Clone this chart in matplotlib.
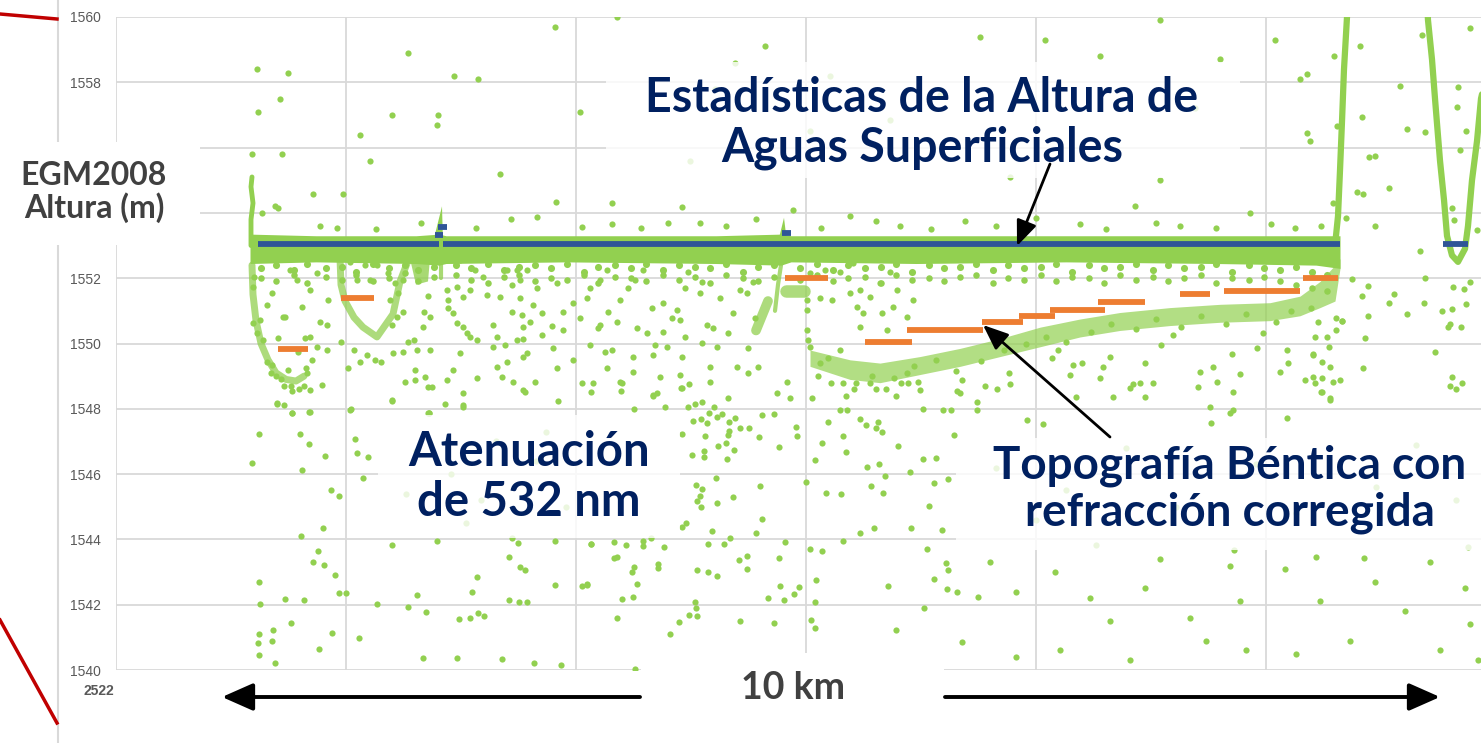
import matplotlib
matplotlib.use("Agg")
import matplotlib.pyplot as plt
import numpy as np
from matplotlib.patches import Rectangle, FancyArrowPatch
from matplotlib.lines import Line2D

W, H = 1481, 743
GRN = "#92d050"
BLU = "#2f5597"
ORG = "#ed7d31"
NAVY = "#002060"
GRAY = "#404040"
GRID = "#d9d9d9"

# ---- datos (distancia a lo largo de la traza, altura EGM2008 m) ----
yticks = [1540, 1542, 1544, 1546, 1548, 1550, 1552, 1554, 1556, 1558, 1560]
# 1554 y 1556 quedan tapados por el recuadro del titulo del eje
ytick_labels = ["1540", "1542", "1544", "1546", "1548", "1550", "1552", "", "", "1558", "1560"]
xgrid = [0, 23, 46, 69, 92, 115]
xlabel_first = "2522"

# superficie del agua (banda densa de fotones)
surf_x = [13.4, 20.0, 30.0, 32.3, 33.0, 45.0, 60.0, 66.5, 67.5, 80.0, 95.0, 110.0, 120.0, 122.4]
surf_top = [1553.35, 1553.3, 1553.3, 1553.35, 1553.3, 1553.3, 1553.3, 1553.35, 1553.3, 1553.3, 1553.3, 1553.3, 1553.3, 1553.3]
surf_bot = [1552.45, 1552.5, 1552.45, 1552.4, 1552.45, 1552.5, 1552.45, 1552.4, 1552.5, 1552.45, 1552.5, 1552.45, 1552.4, 1552.3]

# estadistica de altura de superficie (azul)
blue_x0 = [14.2, 32.7, 132.7, 32.2, 31.9, 66.6]
blue_x1 = [32.3, 122.4, 135.2, 33.1, 32.7, 67.5]
blue_y = [1553.05, 1553.05, 1553.05, 1553.57, 1553.32, 1553.38]

# topografia bentica corregida (naranja)
orange_x0 = [16.2, 22.5, 66.9, 74.9, 79.1, 86.6, 90.3, 93.4, 98.2, 106.4, 110.8, 118.7]
orange_x1 = [19.2, 25.8, 71.2, 79.6, 86.7, 90.7, 93.9, 98.9, 102.9, 109.4, 118.4, 122.2]
orange_y = [1549.83, 1551.39, 1552.0, 1550.05, 1550.42, 1550.66, 1550.84, 1551.03, 1551.27, 1551.52, 1551.6, 1552.0]

# fondo largo (nube densa de retornos del fondo)
bottom_x = [69.4, 73.4, 76.4, 80.4, 84.4, 88.4, 92.4, 96.4, 100.4, 105.4, 110.4, 115.4, 118.4, 120.4, 121.9, 122.4]
bottom_top = [1549.8, 1549.5, 1549.4, 1549.6, 1549.85, 1550.15, 1550.5, 1550.75, 1550.95, 1551.1, 1551.2, 1551.25, 1551.45, 1551.9, 1552.4, 1552.6]
bottom_bot = [1549.3, 1548.9, 1548.8, 1549.05, 1549.3, 1549.6, 1549.9, 1550.2, 1550.4, 1550.55, 1550.65, 1550.7, 1550.85, 1551.1, 1551.3, 1552.3]

# trazas delgadas (paredes, colas, U del fondo)
wall_x = [13.5, 13.5, 13.7, 13.5, 13.6]
wall_y = [1553.0, 1553.8, 1554.3, 1554.8, 1555.1]
u1_x = [13.6, 13.7, 14.0, 14.5, 15.2, 16.0, 17.0, 18.0, 18.8]
u1_y = [1552.4, 1551.5, 1550.7, 1550.0, 1549.5, 1549.1, 1548.9, 1548.85, 1549.0]
u2_x = [22.4, 22.5, 22.9, 23.8, 24.7, 26.1, 27.7, 28.4, 29.1]
u2_y = [1552.6, 1551.8, 1551.3, 1550.8, 1550.5, 1550.2, 1550.9, 1551.9, 1552.45]
tail1_x = [32.5, 32.5]
tail1_y = [1553.0, 1552.0]
tail2_x = [66.6, 66.2, 65.9]
tail2_y = [1552.6, 1551.8, 1551.0]
blob_x = [65.2, 64.0]
blob_y = [1551.3, 1550.4]
blob2_x = [67.0, 68.8]
blob2_y = [1551.6, 1551.6]
hump_x = [29.4, 31.4, 31.2, 30.0]
hump_y = [1552.6, 1552.6, 1551.9, 1551.8]
spike1_x = [31.7, 32.6, 32.7]
spike1_y = [1553.1, 1554.2, 1553.1]
spike2_x = [66.2, 66.8, 67.1]
spike2_y = [1553.1, 1553.85, 1553.1]
v1_x = [121.9, 122.2, 122.4, 122.6, 122.8, 123.1, 123.2]
v1_y = [1553.0, 1553.9, 1555.3, 1556.8, 1558.4, 1560.0, 1560.5]
v2_x = [131.1, 131.2, 131.6, 131.9, 132.4, 132.8, 133.1, 133.6, 134.2, 134.9, 135.2, 135.6, 136.1, 136.5, 137.4]
v2_y = [1560.5, 1559.9, 1558.7, 1557.5, 1555.6, 1554.4, 1553.3, 1552.7, 1552.5, 1552.9, 1553.6, 1555.0, 1556.2, 1557.5, 1558.7]

# fotones dispersos
noise_above = [
    (14.1, 1558.4), (14.2, 1557.1), (13.6, 1555.8), (17.2, 1558.3), (16.4, 1557.5), (16.6, 1555.8),
    (20.4, 1553.6), (14.6, 1554.0), (15.9, 1554.2), (16.2, 1554.15), (19.7, 1554.58), (22.7, 1554.58),
    (22.1, 1553.54), (29.2, 1558.9), (33.8, 1558.2), (36.2, 1558.1), (27.6, 1557.0), (24.4, 1556.4),
    (32.2, 1557.0), (32.1, 1556.7), (25.4, 1555.6), (43.9, 1559.7), (46.4, 1557.1), (50.1, 1560.0),
    (59.9, 1557.8), (61.9, 1558.6), (64.9, 1559.1), (71.4, 1558.2), (77.4, 1556.85), (86.4, 1559.4),
    (92.9, 1559.3), (98.4, 1558.8), (104.4, 1559.9), (110.4, 1558.7), (115.9, 1559.3), (118.4, 1558.1),
    (119.4, 1556.2), (104.4, 1555.0), (42.1, 1553.87), (46.6, 1553.57), (49.6, 1553.66), (55.2, 1553.69),
    (56.6, 1554.18), (44.0, 1554.33), (49.6, 1554.3), (67.7, 1554.09), (58.4, 1553.7), (73.4, 1553.9),
    (78.4, 1553.6), (84.9, 1553.75), (96.4, 1553.65), (101.9, 1554.2), (106.4, 1553.6), (113.4, 1554.0),
    (117.9, 1553.55), (89.4, 1555.1), (57.4, 1555.6), (38.4, 1555.2), (69.4, 1556.5), (82.4, 1557.6),
    (107.9, 1557.2), (119.1, 1558.25), (119.1, 1556.45), (121.8, 1558.81), (124.6, 1556.94),
    (122.1, 1556.66), (125.3, 1555.71), (125.9, 1555.74), (124.1, 1554.64), (124.7, 1554.58),
    (127.3, 1554.76), (125.9, 1553.6), (129.1, 1556.57), (130.6, 1559.45), (134.2, 1557.86),
    (134.1, 1557.24), (135.0, 1556.51), (134.4, 1555.93), (135.4, 1559.66), (130.9, 1556.48),
    (130.4, 1552.83), (123.0, 1553.84), (121.7, 1554.3), (136.1, 1553.48), (133.6, 1554.15),
    (133.8, 1553.78), (124.4, 1559.1), (128.4, 1557.9),
    (26.0, 1553.5), (30.5, 1553.7), (36.0, 1553.55), (39.5, 1553.8), (52.5, 1553.55), (61.0, 1553.6),
    (64.0, 1553.8), (70.5, 1553.55), (76.0, 1553.75), (81.5, 1553.5), (88.0, 1553.6), (92.0, 1553.85),
    (99.0, 1553.5), (104.0, 1553.7), (110.0, 1553.55), (115.5, 1553.65), (120.5, 1553.6),
]
noise_left = [
    (13.7, 1551.73), (13.8, 1552.04), (15.1, 1551.18), (14.4, 1550.72), (15.6, 1551.55), (16.9, 1550.81),
    (18.6, 1551.12), (19.4, 1551.64), (20.1, 1552.16), (18.1, 1551.94), (17.4, 1552.25), (19.4, 1550.2),
    (20.1, 1549.9), (18.2, 1549.74), (19.6, 1549.5), (19.1, 1549.1), (20.6, 1548.73), (19.4, 1548.58),
    (16.1, 1548.18), (17.6, 1547.87), (19.4, 1547.9), (15.1, 1549.43), (15.6, 1549.34), (14.1, 1550.32),
    (13.7, 1550.63), (14.7, 1550.11), (16.2, 1550.17), (16.7, 1550.81), (18.9, 1550.17), (21.1, 1549.8),
    (21.1, 1550.57), (20.4, 1550.66), (21.2, 1551.33), (22.5, 1550.05),
    (16.0, 1549.0), (16.5, 1548.9), (17.5, 1548.7), (18.3, 1548.6), (17.6, 1548.55), (16.8, 1548.7),
    (18.8, 1548.7), (15.5, 1549.1), (19.0, 1549.25), (17.2, 1549.2),
    (14.3, 1547.23), (13.6, 1546.34), (18.4, 1547.23), (19.3, 1546.92), (20.9, 1546.55), (18.6, 1546.13),
    (21.5, 1545.51), (22.3, 1545.33), (20.7, 1544.35), (18.5, 1544.1), (20.2, 1543.64), (19.7, 1543.31),
    (20.8, 1543.22), (21.9, 1542.91), (14.3, 1542.7), (14.4, 1542.02), (16.9, 1542.17), (18.8, 1542.14),
    (22.3, 1542.36), (23.0, 1542.36), (17.5, 1541.44), (15.7, 1541.23), (14.3, 1541.1), (14.2, 1540.83),
    (15.6, 1540.89), (14.3, 1540.46), (15.9, 1540.21), (21.6, 1541.13), (20.3, 1540.64), (24.3, 1540.98),
    (23.9, 1547.08), (24.1, 1546.65), (25.2, 1546.52), (24.7, 1545.88), (27.6, 1543.83), (26.1, 1542.02),
    (29.2, 1541.93), (31.0, 1541.78), (30.1, 1542.3), (30.7, 1540.37), (34.1, 1540.37), (38.6, 1540.34),
    (41.8, 1540.21), (44.5, 1540.15), (34.3, 1541.56), (35.4, 1541.6), (36.2, 1541.75), (36.8, 1541.65),
    (35.6, 1542.39), (36.1, 1542.85), (39.3, 1542.14), (40.3, 1542.08), (41.1, 1542.08), (43.9, 1542.6),
    (46.6, 1542.57), (47.1, 1542.6), (39.3, 1543.46), (40.4, 1543.15), (40.9, 1543.06), (39.6, 1544.04),
    (40.2, 1543.89), (43.9, 1543.95), (47.5, 1543.86), (32.1, 1543.95), (44.2, 1548.24), (32.9, 1548.15),
    (34.7, 1548.12), (31.3, 1547.87), (16.1, 1548.15), (16.8, 1548.12), (17.6, 1547.87), (19.3, 1547.9),
    (23.5, 1547.99), (27.6, 1548.24), (30.0, 1546.7), (33.5, 1546.0), (36.5, 1545.2), (38.0, 1547.0),
    (42.0, 1546.4), (45.0, 1545.0), (29.0, 1545.4), (35.0, 1544.5), (43.0, 1547.3),
    (23.4, 1552.5), (24.9, 1552.4), (26.1, 1552.4), (24.1, 1551.94), (25.4, 1551.94), (27.2, 1552.16),
    (34.4, 1552.56), (35.9, 1552.25), (36.7, 1552.04), (39.1, 1552.25), (40.1, 1552.25), (39.6, 1551.79),
    (33.1, 1551.64), (34.1, 1551.73), (33.2, 1551.33), (34.7, 1551.42), (35.4, 1551.64), (37.1, 1551.49),
    (38.4, 1551.42), (40.4, 1551.39), (33.2, 1551.09), (33.7, 1550.93), (34.1, 1550.63), (34.7, 1550.5),
    (35.1, 1550.32), (35.4, 1550.2), (36.1, 1550.11), (37.7, 1550.57), (39.6, 1550.96), (40.7, 1550.5),
    (38.1, 1550.2), (37.7, 1549.89), (38.9, 1549.95), (40.1, 1550.11), (40.7, 1549.59), (39.1, 1549.43),
    (38.1, 1549.28), (34.4, 1549.71), (33.7, 1549.19), (33.1, 1548.88), (34.7, 1548.48), (34.7, 1548.05),
    (36.1, 1548.94), (38.6, 1548.97), (39.7, 1548.82), (40.7, 1548.58), (31.2, 1547.87), (31.2, 1548.67),
    (28.7, 1551.94), (27.9, 1551.85), (28.2, 1551.55), (27.4, 1551.33), (28.7, 1550.96), (28.1, 1550.81),
    (27.6, 1550.57), (31.2, 1551.45), (31.4, 1550.81), (30.8, 1550.96), (30.7, 1550.5), (29.8, 1550.11),
    (30.1, 1549.8), (28.7, 1549.74), (27.7, 1549.71), (29.2, 1550.05), (29.9, 1549.19), (28.9, 1548.82),
    (31.4, 1549.8), (30.9, 1548.97), (31.6, 1548.67), (29.9, 1548.88), (27.6, 1548.27), (31.3, 1547.87),
    (26.5, 1549.43), (25.9, 1549.49), (25.1, 1549.65), (24.4, 1549.43), (23.8, 1549.8), (23.2, 1549.25),
    (23.4, 1547.96),
]
noise_mid = [
    (40.4, 1551.94), (41.1, 1552.25), (42.1, 1551.7), (41.7, 1551.18), (42.6, 1550.93), (40.6, 1550.87),
    (41.4, 1550.66), (42.6, 1550.26), (40.7, 1550.14), (43.6, 1550.54), (44.1, 1551.85), (44.7, 1550.96),
    (45.7, 1551.24), (46.4, 1550.78), (47.1, 1551.39), (47.4, 1551.7), (48.4, 1551.94), (49.1, 1552.25),
    (48.4, 1550.57), (49.2, 1550.96), (50.1, 1550.66), (50.4, 1551.33), (51.2, 1551.7), (51.9, 1551.94),
    (52.7, 1552.25), (53.6, 1551.09), (54.7, 1551.24), (55.6, 1550.78), (56.1, 1551.03), (56.9, 1551.7),
    (58.4, 1551.55), (58.6, 1551.88), (57.2, 1552.19), (59.1, 1550.57), (60.4, 1551.39), (61.7, 1550.93),
    (62.4, 1551.64), (63.1, 1551.55), (63.7, 1551.88), (63.9, 1550.78), (61.2, 1550.32), (59.7, 1550.48),
    (56.4, 1550.72), (54.7, 1550.35), (53.9, 1549.95), (55.1, 1549.89), (56.9, 1550.2), (53.1, 1550.32),
    (52.1, 1550.48), (48.2, 1550.48), (44.7, 1550.41), (41.1, 1549.71), (45.7, 1549.49), (43.7, 1549.86),
    (47.4, 1549.95), (48.9, 1549.74), (49.6, 1549.8), (51.7, 1549.59), (53.7, 1549.65), (56.6, 1549.59),
    (58.6, 1550.02), (60.1, 1549.89), (63.2, 1549.86), (64.2, 1549.28), (62.1, 1549.28), (59.4, 1549.28),
    (56.4, 1549.04), (54.4, 1548.97), (51.7, 1549.13), (49.1, 1549.25), (44.1, 1549.25), (41.9, 1548.82),
    (40.9, 1548.51), (46.6, 1548.79), (50.4, 1548.82), (53.7, 1548.42), (56.6, 1548.64), (59.4, 1548.82),
    (63.2, 1549.1), (67.1, 1548.82), (66.1, 1548.48),
    (47.5, 1548.51), (47.7, 1548.79), (50.6, 1548.79), (50.5, 1548.55), (51.8, 1548.0), (53.7, 1548.39),
    (54.1, 1548.48), (54.9, 1548.05), (56.5, 1548.64), (57.3, 1548.76), (57.2, 1548.05), (57.9, 1548.15),
    (58.6, 1548.21), (59.8, 1548.05), (61.2, 1548.33), (59.3, 1547.87), (60.1, 1547.75), (60.6, 1547.84),
    (57.7, 1547.63), (58.5, 1547.69), (59.1, 1547.57), (61.3, 1547.6), (61.9, 1547.72), (62.4, 1547.41),
    (63.3, 1547.41), (64.6, 1547.81), (65.8, 1547.84), (61.3, 1547.32), (61.2, 1547.2), (58.9, 1547.17),
    (56.6, 1547.23), (57.6, 1546.58), (58.8, 1546.71), (58.8, 1546.52), (60.2, 1546.86), (61.0, 1546.95),
    (61.8, 1546.74), (61.1, 1546.46), (64.3, 1547.14), (66.3, 1546.83), (68.0, 1547.44), (68.1, 1547.17),
    (67.4, 1548.33), (69.6, 1548.33), (71.2, 1547.6), (72.7, 1547.17), (73.0, 1546.68), (69.9, 1546.43),
    (70.6, 1546.95), (72.4, 1547.96), (73.1, 1547.96), (74.4, 1547.7), (75.0, 1547.5), (76.0, 1547.4),
    (76.6, 1547.3), (76.2, 1547.6), (72.7, 1548.8), (73.0, 1548.4), (74.0, 1548.8), (75.4, 1548.8),
    (76.0, 1548.6), (77.0, 1548.6), (78.0, 1548.4), (78.5, 1548.8), (75.1, 1546.22), (76.3, 1546.31),
    (76.9, 1545.94), (75.5, 1545.64), (76.7, 1545.42), (78.2, 1546.86), (79.4, 1546.06), (80.7, 1546.46),
    (82.0, 1546.49), (81.8, 1545.73), (83.2, 1545.85), (81.3, 1545.02), (82.6, 1544.29), (79.5, 1544.35),
    (75.8, 1544.35), (74.4, 1544.2), (72.7, 1543.95), (71.0, 1545.42), (72.5, 1545.39), (69.0, 1545.76),
    (69.4, 1543.71), (70.6, 1543.65), (70.0, 1542.76), (69.9, 1542.08), (69.5, 1541.53), (69.9, 1541.29),
    (77.2, 1542.57), (78.0, 1541.23), (81.1, 1543.71), (81.8, 1542.79), (83.0, 1543.28), (83.2, 1543.06),
    (83.1, 1542.48), (84.1, 1542.39), (80.8, 1541.9), (84.6, 1540.86), (86.2, 1542.24), (66.9, 1543.92),
    (66.3, 1543.43), (66.4, 1542.57), (68.3, 1542.54), (67.8, 1542.33), (66.8, 1542.14), (65.2, 1542.2),
    (65.8, 1541.44), (62.4, 1541.5), (64.6, 1544.62), (64.0, 1544.2), (61.4, 1544.04), (60.8, 1543.86),
    (59.2, 1543.86), (59.6, 1544.26), (62.3, 1543.37), (63.1, 1543.49), (63.1, 1543.09), (60.1, 1542.88),
    (59.2, 1543.0), (58.1, 1543.06), (61.7, 1545.3), (60.1, 1545.12), (60.0, 1545.88), (58.0, 1545.67),
    (58.6, 1545.54), (58.4, 1545.33), (58.1, 1545.18), (58.5, 1544.99), (57.0, 1544.5), (56.6, 1544.38),
    (54.8, 1543.77), (53.5, 1544.04), (52.7, 1543.95), (52.7, 1543.8), (51.0, 1543.83), (49.8, 1543.92),
    (47.5, 1543.86), (49.8, 1543.43), (50.1, 1543.46), (51.8, 1543.15), (51.6, 1543.0), (54.2, 1543.25),
    (54.2, 1543.12), (52.1, 1542.63), (51.7, 1542.24), (50.6, 1542.17), (47.1, 1542.63), (50.1, 1541.59),
    (56.3, 1541.47), (57.3, 1541.69), (57.9, 1542.08), (58.0, 1541.9), (58.1, 1541.65), (55.4, 1541.1),
    (51.9, 1540.03), (64.4, 1545.64),
    (69.4, 1552.16), (70.9, 1552.25), (72.4, 1552.19), (73.7, 1552.47), (74.4, 1551.64), (75.4, 1551.42),
    (76.4, 1551.85), (77.4, 1552.19), (78.1, 1551.64), (74.1, 1551.12), (74.7, 1550.93), (76.6, 1550.93),
    (77.7, 1551.12), (79.1, 1550.81), (79.7, 1551.33), (74.4, 1550.5), (77.1, 1550.41), (69.1, 1551.33),
    (69.1, 1551.03), (70.4, 1551.39), (71.6, 1551.33), (73.4, 1551.55), (69.1, 1550.41), (69.2, 1550.11),
    (69.4, 1549.89), (70.4, 1549.4), (71.2, 1549.56), (72.4, 1549.8),
    (70.2, 1549.0), (71.5, 1548.8), (73.8, 1548.6), (75.6, 1549.0), (77.8, 1548.95), (79.8, 1549.3),
    (82.0, 1549.5), (84.0, 1549.15), (86.5, 1549.45), (88.8, 1549.8), (91.0, 1550.0), (93.0, 1550.2),
    (95.0, 1550.05), (97.5, 1550.35), (99.5, 1550.6), (102.0, 1550.45), (104.0, 1550.75), (106.5, 1550.5),
    (108.5, 1550.85), (111.0, 1550.6), (113.0, 1550.9), (116.0, 1550.65), (117.5, 1551.0), (119.5, 1551.1),
]
noise_right = [
    (79.1, 1549.1), (80.2, 1548.82), (80.4, 1548.58), (79.2, 1548.79), (84.6, 1548.88), (84.4, 1548.48),
    (86.1, 1548.21), (86.9, 1548.7), (88.1, 1548.61), (89.3, 1549.1), (89.4, 1548.76), (82.7, 1547.96),
    (83.5, 1547.96), (80.7, 1547.99), (93.6, 1549.56), (94.2, 1549.8), (95.7, 1549.34), (96.6, 1549.4),
    (98.7, 1549.28), (99.4, 1549.59), (101.4, 1548.64), (101.7, 1548.76), (102.4, 1548.79), (102.9, 1549.4),
    (103.7, 1548.79), (102.9, 1548.36), (99.7, 1548.36), (98.4, 1548.94), (95.4, 1549.03), (96.0, 1548.36),
    (104.5, 1549.95), (105.7, 1550.26), (108.4, 1549.13), (108.2, 1548.67), (109.7, 1549.28), (110.1, 1548.82),
    (111.6, 1549.68), (111.7, 1548.52), (112.4, 1549.07), (114.1, 1549.86), (114.7, 1550.32), (116.4, 1549.13),
    (117.1, 1549.8), (117.2, 1549.4), (118.9, 1548.88), (119.9, 1548.79), (120.6, 1548.52), (119.7, 1549.65),
    (121.4, 1549.28), (122.6, 1550.69), (122.4, 1548.88), (121.4, 1548.27), (109.4, 1548.05), (111.7, 1547.96),
    (117.1, 1547.72), (111.4, 1547.87), (91.1, 1547.66), (84.1, 1548.55), (86.1, 1547.96),
    (123.6, 1551.98), (125.2, 1551.76), (124.6, 1551.45), (127.8, 1551.52), (127.3, 1551.24), (125.2, 1550.84),
    (124.9, 1550.17), (124.7, 1549.25), (122.6, 1550.69), (122.0, 1550.41), (130.9, 1552.01), (130.8, 1551.24),
    (129.1, 1550.9), (131.9, 1549.74), (132.6, 1551.0), (133.7, 1551.73), (134.8, 1551.67), (135.4, 1551.88),
    (135.0, 1551.21), (133.6, 1551.06), (133.4, 1550.6), (133.2, 1550.5), (134.5, 1550.5), (133.6, 1548.97),
    (133.4, 1548.7), (134.0, 1548.61), (134.6, 1548.79), (119.7, 1548.97), (120.6, 1548.94), (121.7, 1548.82),
    (120.5, 1548.52), (121.4, 1548.33), (119.7, 1549.68), (120.6, 1549.43), (121.3, 1549.89), (121.1, 1550.2),
    (122.0, 1550.78), (120.2, 1550.66), (119.9, 1550.2),
    (83.8, 1547.2), (92.7, 1547.53), (109.5, 1547.57), (135.2, 1543.77), (111.8, 1543.68), (120.0, 1543.46),
    (124.8, 1543.43), (98.0, 1543.83), (88.0, 1546.2), (95.0, 1545.5), (101.0, 1546.8), (106.0, 1545.0),
    (114.0, 1546.3), (118.0, 1544.8), (126.0, 1545.6), (130.0, 1546.9), (134.0, 1545.2), (92.0, 1544.6),
    (87.4, 1543.3), (90.0, 1542.4), (93.9, 1543.0), (97.4, 1542.2), (99.4, 1541.5), (102.9, 1542.5),
    (104.4, 1543.4), (107.4, 1541.6), (111.4, 1543.2), (112.4, 1542.1), (113.0, 1540.6), (116.9, 1543.1),
    (120.4, 1542.1), (123.4, 1540.9), (125.9, 1542.7), (128.9, 1541.8), (131.4, 1543.3), (132.4, 1540.6),
    (135.4, 1541.4), (136.2, 1540.3), (134.9, 1542.5), (90.0, 1540.4), (94.4, 1540.6), (101.4, 1540.3),
    (118.0, 1540.5), (109.0, 1540.9),
]

# fila densa justo debajo de la superficie
fringe_x = [14.5, 16.0, 17.8, 19.1, 21.0, 22.6, 24.0, 25.7, 27.3, 28.9, 30.2, 31.8, 34.0, 35.5, 37.2,
            38.8, 40.3, 41.9, 43.5, 45.1, 46.8, 48.2, 49.9, 51.5, 53.0, 54.7, 56.3, 57.9, 59.4, 61.0,
            62.7, 64.2, 65.8, 68.4, 70.1, 71.7, 73.2, 74.9, 76.5, 78.0, 79.6, 81.3, 82.8, 84.4, 86.0,
            87.7, 89.2, 90.8, 92.5, 94.0, 95.6, 97.3, 98.8, 100.4, 102.0, 103.7, 105.2, 106.8, 108.5,
            110.0, 111.6, 113.3, 114.8, 116.4, 118.0, 119.6, 121.1]
fringe_y1 = [1552.3, 1552.4, 1552.25, 1552.45, 1552.3, 1552.35, 1552.2, 1552.45, 1552.3, 1552.4, 1552.25, 1552.35,
             1552.4, 1552.3, 1552.45, 1552.25, 1552.35, 1552.4, 1552.3, 1552.45, 1552.2, 1552.35, 1552.4, 1552.3,
             1552.45, 1552.25, 1552.4, 1552.35, 1552.3, 1552.45, 1552.2, 1552.35, 1552.4, 1552.3, 1552.45, 1552.25,
             1552.4, 1552.3, 1552.35, 1552.45, 1552.2, 1552.4, 1552.3, 1552.35, 1552.45, 1552.25, 1552.4, 1552.3,
             1552.35, 1552.45, 1552.2, 1552.4, 1552.3, 1552.35, 1552.45, 1552.25, 1552.4, 1552.3, 1552.35, 1552.45,
             1552.2, 1552.4, 1552.3, 1552.25, 1552.35, 1552.2, 1552.1]
fringe_y2 = [1552.0, 1551.9, 1552.1, 1551.85, 1552.05, 1551.95, 1552.1, 1551.9, 1552.0, 1552.15, 1551.9, 1552.05,
             1552.1, 1551.95, 1551.85, 1552.05, 1552.1, 1551.9, 1552.0, 1551.95, 1552.1, 1551.85, 1552.05, 1552.0,
             1551.9, 1552.1, 1551.95, 1552.05, 1551.85, 1552.1, 1552.0, 1551.9, 1552.05, 1551.95, 1552.1, 1551.9,
             1552.0, 1552.05, 1551.85, 1552.1, 1551.95, 1552.0, 1551.9, 1552.05, 1552.1, 1551.85, 1552.0, 1551.95,
             1552.1, 1551.9, 1552.05, 1552.0, 1551.85, 1552.1, 1551.95, 1552.05, 1551.9, 1552.0, 1552.1, 1551.85,
             1552.0, 1551.95, 1552.05, 1551.9, 1551.8, 1551.7, 1551.6]

# ---- figura ----
fig = plt.figure(figsize=(W / 100, H / 100), dpi=100)
fig.patch.set_facecolor("white")


def fx(px):
    return px / W


def fy(py):
    return 1 - py / H


ax = fig.add_axes([fx(116), fy(670), fx(1365), 653 / H])
ax.set_xlim(0, 136.5)
ax.set_ylim(1540, 1560)
for s in ax.spines.values():
    s.set_visible(False)
ax.set_xticks(xgrid)
ax.set_yticks(yticks)
ax.set_yticklabels(ytick_labels, family=["Liberation Sans", "DejaVu Sans"], fontsize=10, color="#595959")
ax.grid(True, color=GRID, lw=1.3)
ax.set_axisbelow(True)
ax.tick_params(length=0, labelbottom=False, pad=11)

# banda de superficie y fondo
ax.fill_between(surf_x, surf_bot, surf_top, color=GRN, lw=0, zorder=2)
ax.fill_between(bottom_x, bottom_bot, bottom_top, color=GRN, alpha=0.7, lw=0, zorder=2)
ax.fill(hump_x, hump_y, color=GRN, alpha=0.8, lw=0, zorder=2)
ax.fill(spike1_x, spike1_y, color=GRN, lw=0, zorder=2)
ax.fill(spike2_x, spike2_y, color=GRN, lw=0, zorder=2)
for xs, ys, w, a in [(wall_x, wall_y, 3.5, 1), (u1_x, u1_y, 5, 0.75), (u2_x, u2_y, 5, 0.75),
                     (tail1_x, tail1_y, 3, 0.8), (tail2_x, tail2_y, 3, 0.8), (blob_x, blob_y, 7, 0.75),
                     (blob2_x, blob2_y, 9, 0.75), (v1_x, v1_y, 4.5, 1), (v2_x, v2_y, 4.5, 1)]:
    ax.plot(xs, ys, color=GRN, lw=w, alpha=a, solid_capstyle="round", solid_joinstyle="round", zorder=2)

pts = np.array(noise_above + noise_left + noise_mid + noise_right)
ax.scatter(pts[:, 0], pts[:, 1], s=20, color=GRN, lw=0, zorder=2)
ax.scatter(fringe_x, fringe_y1, s=26, color=GRN, lw=0, zorder=2)
ax.scatter(fringe_x, fringe_y2, s=22, color=GRN, lw=0, zorder=2)

ax.hlines(blue_y, blue_x0, blue_x1, color=BLU, lw=4.2, zorder=3)
ax.hlines(orange_y, orange_x0, orange_x1, color=ORG, lw=4.2, zorder=3)

# ---- anotaciones del montaje ----
def box(x0, y0, x1, y1, alpha=1.0):
    fig.add_artist(Rectangle((fx(x0), fy(y1)), fx(x1 - x0), (y1 - y0) / H, transform=fig.transFigure,
                             fc="white", ec="none", alpha=alpha, zorder=5))


box(0, 142, 200, 245)
box(606, 62, 1240, 178, 0.82)
box(378, 415, 680, 538, 0.82)
box(956, 438, 1481, 550, 0.82)
box(641, 653, 944, 743)

TF = ["Lato", "DejaVu Sans"]


def label(px, py, txt, size, color, ls=1.0):
    fig.text(fx(px), fy(py), txt, family=TF, fontsize=size, fontweight="bold", color=color,
             ha="center", va="center", ma="center", linespacing=ls, zorder=6)


label(922, 123, "Estadísticas de la Altura de\nAguas Superficiales", 33.5, NAVY, 1.15)
label(529, 477, "Atenuación\nde 532 nm", 34, NAVY, 1.15)
label(1230, 489, "Topografía Béntica con\nrefracción corregida", 33, NAVY, 1.13)
label(94, 192, "EGM2008\nAltura (m)", 23, GRAY, 1.12)
label(793, 688, "10 km", 27, GRAY)
fig.text(fx(84), fy(691), xlabel_first, family=["Liberation Sans", "DejaVu Sans"], fontsize=10,
         fontweight="bold", color="#595959", ha="left", va="center")


def arrow(p0, p1, lw, hl, hw, ms):
    fig.add_artist(FancyArrowPatch((fx(p0[0]), fy(p0[1])), (fx(p1[0]), fy(p1[1])), transform=fig.transFigure,
                                   arrowstyle=f"-|>,head_length={hl},head_width={hw}", color="black",
                                   lw=lw, shrinkA=0, shrinkB=0, mutation_scale=ms, zorder=7))


arrow((1050, 164), (1017, 246), 2.0, 1.1, 0.45, 14)
arrow((1110, 437), (983, 325), 2.0, 1.1, 0.45, 14)
arrow((640, 697), (222, 697), 2.8, 0.95, 0.42, 20)
arrow((945, 697), (1440, 697), 2.8, 0.95, 0.42, 20)

# restos del montaje (bordes de otra figura)
fig.add_artist(Line2D([fx(58), fx(58)], [0, 1], color=GRID, lw=1.5, transform=fig.transFigure, zorder=4))
fig.add_artist(Line2D([fx(0), fx(57)], [fy(14), fy(19)], color="#c00000", lw=2.5,
                      transform=fig.transFigure, zorder=4))
fig.add_artist(Line2D([fx(0), fx(57)], [fy(620), fy(723)], color="#c00000", lw=2.5,
                      transform=fig.transFigure, zorder=4))

fig.savefig("out.png", dpi=100)
